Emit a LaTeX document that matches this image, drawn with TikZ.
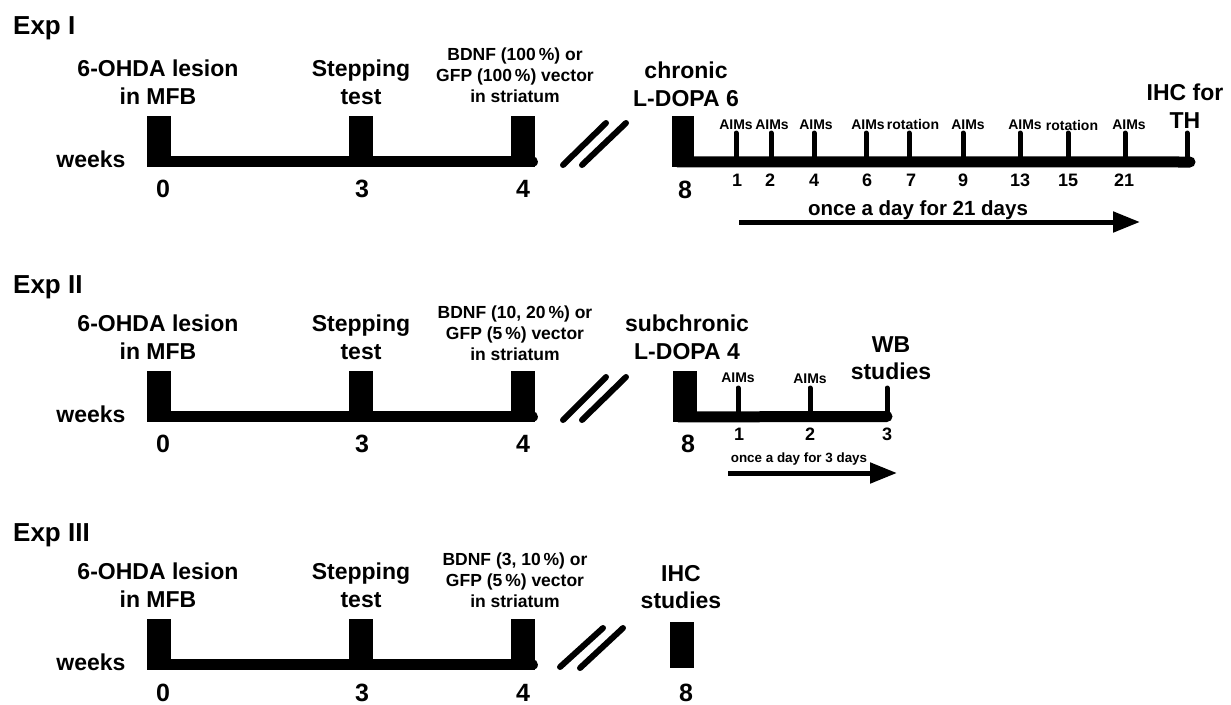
\documentclass[tikz,border=0pt]{standalone}
\usepackage{fontspec}
\setmainfont{Liberation Sans}
\usetikzlibrary{arrows.meta,positioning}

\tikzset{
  title/.style={font=\bfseries\fontsize{26}{30}\selectfont, inner sep=0pt, anchor=north west},
  lbl/.style={font=\bfseries\fontsize{23}{27.5}\selectfont, align=center, inner sep=0pt, anchor=north},
  sublbl/.style={font=\bfseries\fontsize{17.5}{21}\selectfont, align=center, inner sep=0pt, anchor=north},
  wk/.style={font=\bfseries\fontsize{23}{26}\selectfont, inner sep=0pt, anchor=base},
  num/.style={font=\bfseries\fontsize{25}{26}\selectfont, inner sep=0pt, anchor=base},
  day/.style={font=\bfseries\fontsize{18}{20}\selectfont, inner sep=0pt, anchor=base},
  aims/.style={font=\bfseries\fontsize{14}{16}\selectfont, inner sep=0pt, anchor=base},
  bar/.style={fill=black, inner sep=0pt, minimum width=24pt, minimum height=51pt, anchor=north west},
  axis/.style={line width=11pt, line cap=round},
  tick/.style={line width=5pt, line cap=round},
  slash/.style={line width=6pt, line cap=round},
  dose/.style={line width=5pt, -{Triangle[length=27pt, width=20pt]}},
}

\begin{document}
\begin{tikzpicture}[x=1pt,y=-1pt]
\useasboundingbox (0,0) rectangle (1231,704);

% ---- Exp I ----
\node[title] (e1) at (13,16) {Exp I};
\node[lbl] (e1les) at (158,60) {6-OHDA lesion\\in MFB};
\node[lbl] (e1step) at (361,60) {Stepping\\test};
\node[sublbl] (e1vec) at (515,48) {BDNF (100\,\%) or\\GFP (100\,\%) vector\\in striatum};
\node[wk] (e1wk) at (91,167) {weeks};
\node[bar] (e1b0) at (147,116) {};
\node[bar] (e1b3) at (349,116) {};
\node[bar] (e1b4) at (511,116) {};
\draw[axis] ([shift={(5.5,-5.5)}]e1b0.south west) -- ([shift={(-3,-5.5)}]e1b4.south east);
\node[num] (e1n0) at (163,197) {0};
\node[num] (e1n3) at (362,197) {3};
\node[num] (e1n4) at (523,197) {4};
\draw[slash] (563,165) -- (606,123);
\draw[slash] (582,165) -- (626,123);

% chronic L-DOPA, 21 days
\node[lbl] (e1chr) at (686,62) {chronic\\L-DOPA 6};
\node[bar, minimum width=22pt] (e1b8) at (672,116) {};
\coordinate (e1end) at (1190,162);
\draw[axis] ([shift={(5.5,-5.5)}]e1b8.south west) -- (e1end);
\node[num] (e1n8) at (685,198) {8};
\draw[tick] (736,161) -- (736,133);
\draw[tick] (771,161) -- (771,133);
\draw[tick] (814,161) -- (814,133);
\draw[tick] (866,161) -- (866,133);
\draw[tick] (909,161) -- (909,133);
\draw[tick] (963,161) -- (963,133);
\draw[tick] (1020,161) -- (1020,133);
\draw[tick] (1068,161) -- (1068,133);
\draw[tick] (1125,161) -- (1125,133);
\draw[tick] (1187,161) -- (1187,133);
\node[aims] (e1a1) at (736,129) {AIMs};
\node[aims] (e1a2) at (772,129) {AIMs};
\node[aims] (e1a4) at (816,129) {AIMs};
\node[aims] (e1a6) at (868,129) {AIMs};
\node[aims] (e1r7) at (913,129) {rotation};
\node[aims] (e1a9) at (968,129) {AIMs};
\node[aims] (e1a13) at (1025,129) {AIMs};
\node[aims] (e1r15) at (1072,130) {rotation};
\node[aims] (e1a21) at (1129,129) {AIMs};
\node[day] (e1d1) at (737,186) {1};
\node[day] (e1d2) at (770,186) {2};
\node[day] (e1d4) at (814,186) {4};
\node[day] (e1d6) at (867,186) {6};
\node[day] (e1d7) at (911,186) {7};
\node[day] (e1d9) at (963,186) {9};
\node[day] (e1d13) at (1020,186) {13};
\node[day] (e1d15) at (1068,186) {15};
\node[day] (e1d21) at (1124,186) {21};
\node[lbl] (e1ihc) at (1185,84) {IHC for\\TH};
\node[font=\bfseries\fontsize{20.5}{24}\selectfont, inner sep=0pt, anchor=base] (e1once) at (918,215) {once a day for 21 days};
\coordinate (e1s) at (739,222);
\coordinate (e1f) at (1140,222);
\draw[dose] (e1s) -- (e1f);

% ---- Exp II ----
\node[title] (e2) at (13,275) {Exp II};
\node[lbl] (e2les) at (158,315) {6-OHDA lesion\\in MFB};
\node[lbl] (e2step) at (361,315) {Stepping\\test};
\node[sublbl] (e2vec) at (515,306) {BDNF (10, 20\,\%) or\\GFP (5\,\%) vector\\in striatum};
\node[wk] (e2wk) at (91,422) {weeks};
\node[bar] (e2b0) at (147,371) {};
\node[bar] (e2b3) at (349,371) {};
\node[bar] (e2b4) at (511,371) {};
\draw[axis] ([shift={(5.5,-5.5)}]e2b0.south west) -- ([shift={(-3,-5.5)}]e2b4.south east);
\node[num] (e2n0) at (163,452) {0};
\node[num] (e2n3) at (362,452) {3};
\node[num] (e2n4) at (523,452) {4};
\draw[slash] (563,420) -- (606,377);
\draw[slash] (582,420) -- (626,377);

% subchronic L-DOPA, 3 days
\node[lbl] (e2chr) at (687,315) {subchronic\\L-DOPA 4};
\node[bar] (e2b8) at (673,371) {};
\coordinate (e2end) at (887,416.5);
\draw[axis] ([shift={(5.5,-5.5)}]e2b8.south west) -- (e2end);
\node[num] (e2n8) at (688,452) {8};
\draw[tick] (738,416) -- (738,388);
\draw[tick] (810,416) -- (810,388);
\draw[tick] (887,416) -- (887,388);
\node[aims] (e2a1) at (738,382) {AIMs};
\node[aims] (e2a2) at (810,383) {AIMs};
\node[lbl] (e2wb) at (891,336) {WB\\studies};
\node[day] (e2d1) at (739,440) {1};
\node[day] (e2d2) at (810,440) {2};
\node[day] (e2d3) at (887,440) {3};
\node[aims, font=\bfseries\fontsize{13.4}{16}\selectfont] (e2once) at (799,462) {once a day for 3 days};
\coordinate (e2s) at (728,473);
\coordinate (e2f) at (897,473);
\draw[dose] (e2s) -- (e2f);

% ---- Exp III ----
\node[title] (e3) at (13,523) {Exp III};
\node[lbl] (e3les) at (158,563) {6-OHDA lesion\\in MFB};
\node[lbl] (e3step) at (361,563) {Stepping\\test};
\node[sublbl] (e3vec) at (515,553) {BDNF (3, 10\,\%) or\\GFP (5\,\%) vector\\in striatum};
\node[wk] (e3wk) at (91,670) {weeks};
\node[bar] (e3b0) at (147,619) {};
\node[bar] (e3b3) at (349,619) {};
\node[bar] (e3b4) at (511,619) {};
\draw[axis] ([shift={(5.5,-5.5)}]e3b0.south west) -- ([shift={(-3,-5.5)}]e3b4.south east);
\node[num] (e3n0) at (163,701) {0};
\node[num] (e3n3) at (362,701) {3};
\node[num] (e3n4) at (523,701) {4};
\draw[slash] (560,667) -- (603,628);
\draw[slash] (580,668) -- (623,628);
\node[lbl] (e3ihc) at (681,565) {IHC\\studies};
\node[bar, minimum height=46pt] (e3b8) at (670,622) {};
\node[num] (e3n8) at (686,701) {8};
\end{tikzpicture}
\end{document}
